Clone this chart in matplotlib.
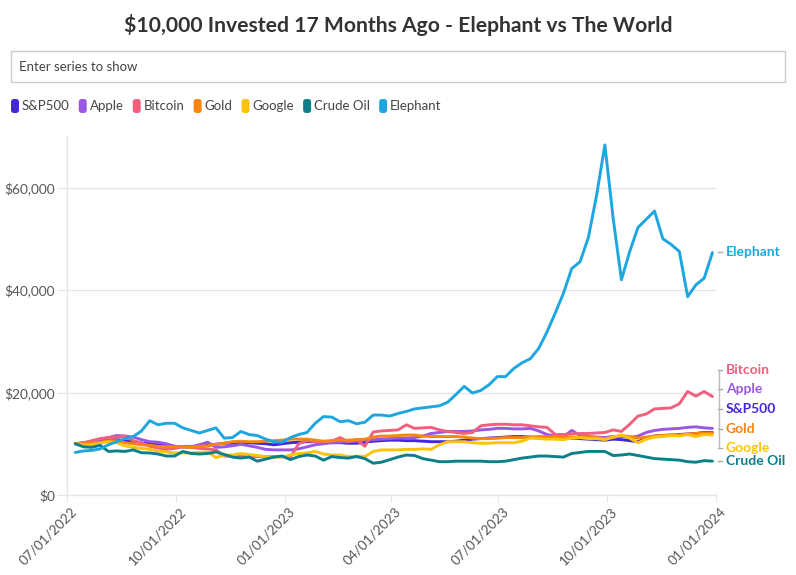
import numpy as np
import pandas as pd
import matplotlib
matplotlib.use('Agg')
import matplotlib.pyplot as plt
import matplotlib.dates as mdates
from matplotlib.patches import FancyBboxPatch
from matplotlib.lines import Line2D
from matplotlib.transforms import blended_transform_factory, ScaledTranslation
from matplotlib.ticker import FuncFormatter

plt.rcParams['font.family'] = ['Lato', 'DejaVu Sans']

# ---------------- data (weekly values, USD thousands) ----------------
dates = pd.date_range('2022-07-08', periods=78, freq='7D')

series_names = ['S&P500', 'Apple', 'Bitcoin', 'Gold', 'Google', 'Crude Oil', 'Elephant']

sp500 = [10.0, 10.1, 10.3, 10.5, 10.7, 10.8, 10.6, 10.4, 10.1, 10.0, 9.8, 9.6, 9.5, 9.4, 9.4, 9.5,
         9.7, 9.9, 10.1, 10.1, 10.2, 10.2, 10.1, 10.0, 9.8, 10.0, 10.2, 10.3, 10.4, 10.4, 10.3, 10.2,
         10.2, 10.1, 10.1, 10.3, 10.5, 10.6, 10.7, 10.7, 10.6, 10.6, 10.5, 10.4, 10.4, 10.4, 10.5, 10.7,
         10.9, 11.0, 11.1, 11.2, 11.3, 11.4, 11.4, 11.3, 11.2, 11.1, 11.1, 11.0, 11.1, 11.0, 10.9, 10.8,
         10.7, 10.9, 10.8, 10.6, 10.4, 11.0, 11.5, 11.6, 11.6, 11.8, 11.9, 12.0, 12.2, 12.2]

apple = [10.0, 10.2, 10.4, 10.9, 11.2, 11.6, 11.5, 11.3, 10.8, 10.4, 10.3, 10.0, 9.5, 9.4, 9.4, 9.8,
         10.3, 9.3, 9.4, 9.6, 9.9, 9.6, 9.3, 8.9, 8.8, 8.8, 8.8, 9.0, 9.4, 9.8, 10.0, 10.2,
         10.3, 10.4, 10.5, 10.7, 10.8, 10.9, 11.0, 11.1, 11.1, 11.2, 11.5, 12.0, 12.2, 12.4, 12.4, 12.4,
         12.5, 12.7, 12.8, 13.0, 13.0, 12.9, 12.9, 13.0, 12.5, 11.8, 11.5, 11.4, 12.6, 11.6, 11.4, 11.3,
         11.2, 11.4, 11.4, 11.2, 11.5, 12.2, 12.6, 12.8, 12.9, 13.0, 13.2, 13.3, 13.1, 13.0]

bitcoin = [10.0, 10.2, 10.6, 11.0, 11.2, 11.3, 11.5, 10.6, 10.2, 9.5, 9.2, 8.9, 9.1, 9.4, 9.3, 9.1,
           9.0, 8.8, 7.6, 7.6, 7.5, 7.5, 7.5, 7.5, 7.5, 7.5, 7.4, 10.0, 10.6, 10.4, 10.4, 10.5,
           11.2, 10.4, 10.8, 9.5, 12.3, 12.5, 12.6, 12.7, 13.7, 13.0, 13.1, 13.2, 12.7, 12.4, 12.2, 12.0,
           12.2, 13.5, 13.7, 13.8, 13.8, 13.7, 13.7, 13.5, 13.3, 13.2, 11.8, 11.8, 11.9, 12.0, 12.0, 12.1,
           12.2, 12.7, 12.4, 13.8, 15.4, 15.8, 16.8, 16.9, 17.0, 17.8, 20.2, 19.3, 20.2, 19.2]

gold = [10.0, 10.0, 10.1, 10.3, 10.6, 10.6, 10.2, 10.0, 9.8, 9.7, 9.5, 9.4, 9.4, 9.4, 9.3, 9.5,
        9.6, 9.9, 10.1, 10.4, 10.5, 10.4, 10.4, 10.5, 10.6, 10.7, 10.9, 10.9, 10.9, 10.7, 10.5, 10.6,
        10.7, 10.7, 10.8, 10.9, 11.3, 11.5, 11.5, 11.6, 11.7, 11.7, 11.5, 11.4, 11.4, 11.4, 11.4, 11.3,
        11.1, 11.0, 11.0, 11.1, 11.2, 11.2, 11.2, 11.3, 11.4, 11.4, 11.4, 11.3, 11.2, 11.3, 11.4, 11.2,
        11.0, 11.2, 11.6, 11.4, 11.1, 11.3, 11.5, 11.6, 11.8, 11.7, 11.9, 12.0, 12.1, 12.1]

google = [10.0, 9.8, 9.8, 10.1, 10.4, 10.2, 9.6, 9.3, 9.1, 8.9, 8.6, 8.4, 8.2, 8.2, 8.2, 8.3,
          8.4, 7.3, 7.8, 7.8, 8.1, 7.9, 7.7, 7.5, 7.4, 7.4, 7.8, 8.1, 8.2, 8.5, 8.0, 7.8,
          7.8, 7.5, 7.6, 7.5, 8.5, 8.8, 8.8, 8.8, 8.9, 8.9, 9.0, 8.9, 9.8, 10.4, 10.4, 10.4,
          10.2, 10.1, 10.1, 10.2, 10.2, 10.2, 10.5, 11.1, 11.0, 10.9, 10.9, 10.8, 11.1, 11.2, 11.0, 11.0,
          10.8, 11.3, 11.7, 11.1, 10.2, 10.9, 11.3, 11.4, 11.6, 11.5, 11.8, 11.4, 11.8, 11.7]

crude_oil = [10.0, 9.4, 9.3, 9.7, 8.5, 8.6, 8.5, 8.8, 8.25, 8.2, 8.0, 7.6, 7.6, 8.5, 8.1, 8.0,
             8.1, 8.4, 7.9, 7.4, 7.2, 7.4, 6.6, 7.0, 7.4, 7.6, 6.9, 7.5, 7.8, 7.6, 6.8, 7.5,
             7.3, 7.2, 7.5, 7.1, 6.2, 6.4, 6.9, 7.4, 7.8, 7.7, 7.1, 6.8, 6.5, 6.5, 6.6, 6.6,
             6.6, 6.6, 6.5, 6.5, 6.6, 6.9, 7.2, 7.4, 7.6, 7.6, 7.5, 7.4, 8.1, 8.3, 8.5, 8.5,
             8.5, 7.7, 7.8, 8.0, 7.7, 7.4, 7.1, 7.0, 6.9, 6.8, 6.5, 6.4, 6.7, 6.6]

elephant = [8.3, 8.6, 8.7, 9.0, 9.8, 10.4, 11.0, 11.4, 12.5, 14.5, 13.7, 14.0, 14.0, 13.1, 12.6, 12.1,
            12.6, 13.1, 11.1, 11.2, 12.4, 11.8, 11.6, 10.9, 10.4, 10.3, 11.2, 11.8, 12.2, 14.0, 15.3, 15.2,
            14.3, 14.5, 13.9, 14.2, 15.6, 15.6, 15.4, 15.9, 16.3, 16.8, 17.0, 17.2, 17.4, 18.1, 19.6, 21.2,
            19.9, 20.4, 21.5, 23.1, 23.1, 24.7, 25.8, 26.6, 28.6, 31.8, 35.5, 39.4, 44.2, 45.5, 50.2, 58.5,
            68.3, 54.0, 42.0, 47.5, 52.2, 53.8, 55.4, 50.0, 48.9, 47.5, 38.7, 41.0, 42.3, 47.3]

values_k = [sp500, apple, bitcoin, gold, google, crude_oil, elephant]

xtick_dates = pd.to_datetime(['2022-07-01', '2022-10-01', '2023-01-01', '2023-04-01',
                              '2023-07-01', '2023-10-01', '2024-01-01'])
ytick_values = [0, 20000, 40000, 60000]

# ---------------- style / layout ----------------
colors = ['#4426dd', '#9a57e3', '#f0607e', '#f98410', '#fcc30a', '#0c7f89', '#1ea6e0']
# end-label vertical positions (layout, de-overlapped), in $
label_pos = {'Bitcoin': 24400, 'Apple': 20700, 'S&P500': 16800, 'Gold': 12900,
             'Google': 9200, 'Crude Oil': 6600, 'Elephant': 47400}
cluster = ['Bitcoin', 'Apple', 'S&P500', 'Gold', 'Google']

W, H = 796, 575
fig = plt.figure(figsize=(W / 100, H / 100), dpi=100)
fig.patch.set_facecolor('white')

ax_left, ax_right, ax_bottom, ax_top = 67, 716, 495, 136.25
ax = fig.add_axes([ax_left / W, 1 - ax_bottom / H, (ax_right - ax_left) / W, (ax_bottom - ax_top) / H])

for name, vals, col in zip(series_names, values_k, colors):
    ax.plot(dates, np.array(vals) * 1000, color=col, lw=2.1, solid_joinstyle='round',
            solid_capstyle='round', zorder=3)

ax.set_xlim(pd.Timestamp('2022-07-01'), pd.Timestamp('2024-01-01'))
ax.set_ylim(0, 70000)

grid_c = '#e6e6e6'
ax.set_yticks(ytick_values)
ax.yaxis.set_major_formatter(FuncFormatter(lambda v, p: f'${v:,.0f}'))
ax.grid(axis='y', color=grid_c, lw=1.0, zorder=0)
ax.set_xticks(xtick_dates)
ax.xaxis.set_major_formatter(mdates.DateFormatter('%m/%d/%Y'))
for s in ['top', 'right']:
    ax.spines[s].set_visible(False)
ax.spines['left'].set_color(grid_c)
ax.spines['bottom'].set_color(grid_c)
ax.spines['left'].set_linewidth(1.0)
ax.spines['bottom'].set_linewidth(1.0)
ax.tick_params(axis='y', length=7, color=grid_c, labelcolor='#555555', labelsize=9.8, pad=1.5)
ax.tick_params(axis='x', length=5, color=grid_c, labelcolor='#555555', labelsize=9.8, pad=2)
shift = ScaledTranslation(4 / 100, 0, fig.dpi_scale_trans)
for lbl in ax.get_xticklabels():
    lbl.set_rotation(45)
    lbl.set_ha('right')
    lbl.set_va('top')
    lbl.set_rotation_mode('anchor')
    lbl.set_transform(lbl.get_transform() + shift)

# ---------------- end labels ----------------
tr = blended_transform_factory(ax.transAxes, ax.transData)
px = 1.0 / (ax_right - ax_left)
for name, col in zip(series_names, colors):
    y = label_pos[name]
    ax.text(1 + 10 * px, y, name, transform=tr, color=col, fontsize=10, fontweight='bold',
            ha='left', va='center', clip_on=False)
    ax.add_line(Line2D([1 + 2 * px, 1 + 6 * px], [y, y], transform=tr, color='#aaaaaa',
                       lw=1.0, clip_on=False))
ys = [label_pos[n] for n in cluster]
ax.add_line(Line2D([1 + 3 * px, 1 + 3 * px], [min(ys), max(ys)], transform=tr,
                   color='#bbbbbb', lw=1.0, clip_on=False))

# ---------------- title, search box, legend ----------------
fig.text(0.5, 1 - 25 / H, '$10,000 Invested 17 Months Ago - Elephant vs The World',
         ha='center', va='center', fontsize=15.2, fontweight='bold', color='#333333')

box = FancyBboxPatch((11 / W, 1 - 82 / H), (785 - 11) / W, 31 / H,
                     boxstyle='square,pad=0', transform=fig.transFigure,
                     facecolor='white', edgecolor='#cccccc', lw=1.0)
fig.patches.append(box)
fig.text(19 / W, 1 - 67 / H, 'Enter series to show', ha='left', va='center',
         fontsize=9.5, color='#444444')

fig.canvas.draw()
renderer = fig.canvas.get_renderer()
x = 11
yc = 106
for name, col in zip(series_names, colors):
    sw = FancyBboxPatch(((x) / W, 1 - (yc + 7) / H), 8 / W, 14 / H,
                        boxstyle='round,pad=0,rounding_size=0.004',
                        transform=fig.transFigure, facecolor=col, edgecolor='none',
                        mutation_aspect=W / H)
    fig.patches.append(sw)
    t = fig.text((x + 11) / W, 1 - yc / H, name, ha='left', va='center',
                 fontsize=9.5, color='#444444')
    bb = t.get_window_extent(renderer)
    x = bb.x1 + 9

fig.savefig('out.png', dpi=100, facecolor='white')
